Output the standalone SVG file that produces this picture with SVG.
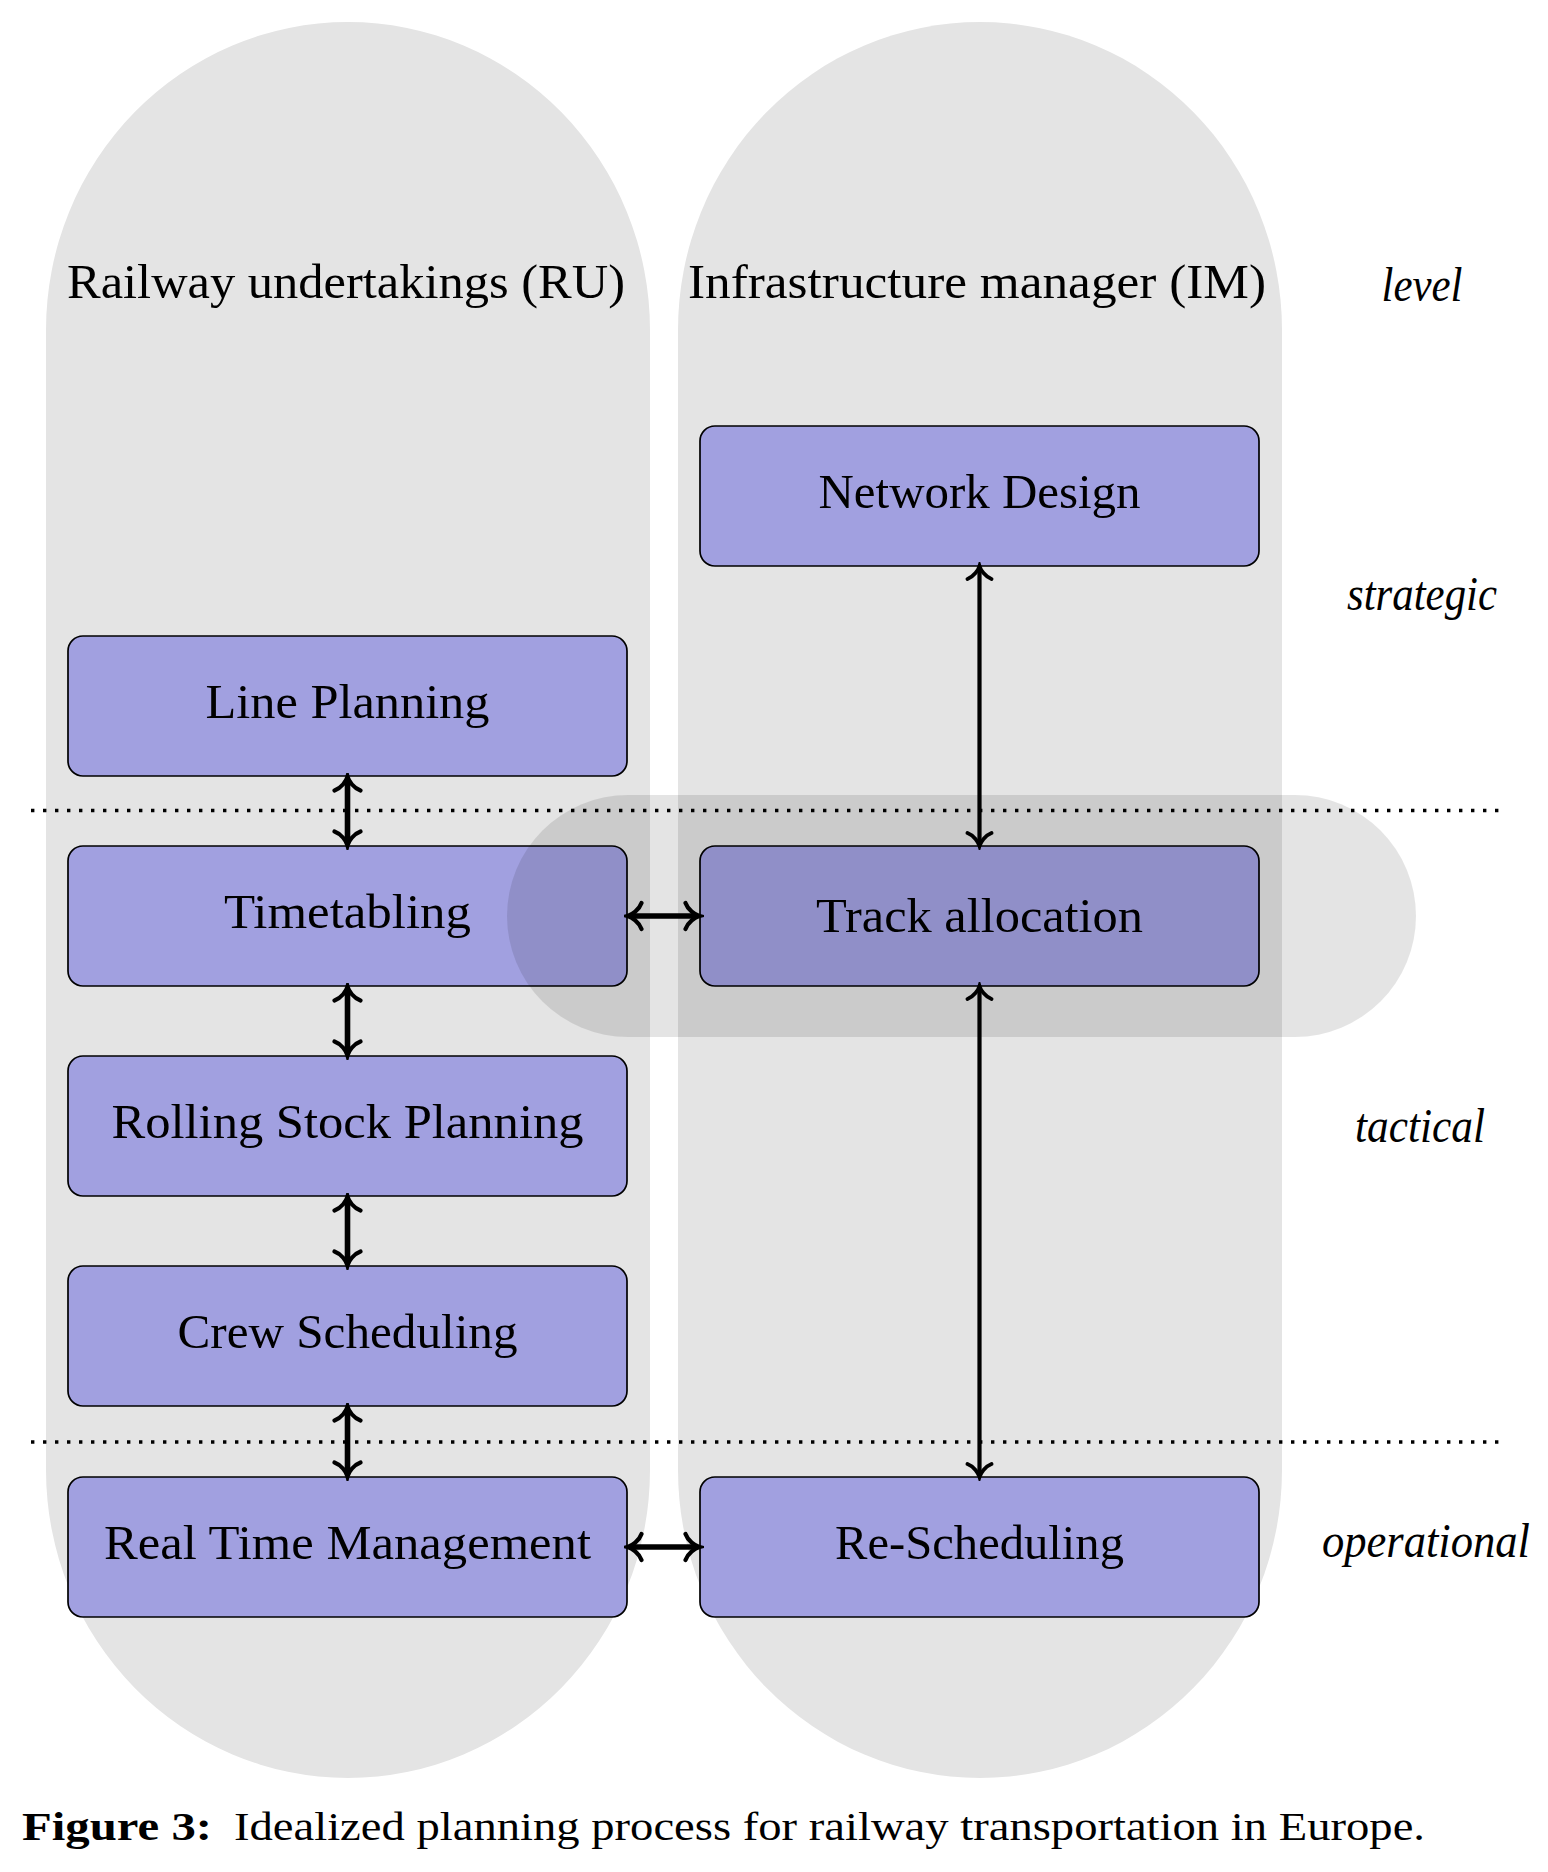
<svg xmlns="http://www.w3.org/2000/svg" width="1548" height="1872" viewBox="0 0 1548 1872">
<style>
.lane{fill:#e4e4e4;stroke:none}
.band{fill:#000;fill-opacity:0.105;stroke:none}
.box{fill:#a1a0e0;stroke:#000;stroke-width:1.7}
.t{font-family:"Liberation Serif","Times New Roman",serif;font-size:48px;fill:#000;text-anchor:middle}
.lvl{font-family:"Liberation Serif","Times New Roman",serif;font-size:48px;font-style:italic;fill:#000;text-anchor:middle}
.cap{font-family:"Liberation Serif","Times New Roman",serif;font-size:39px;fill:#000}
.dot{fill:none;stroke:#000;stroke-width:3.4;stroke-dasharray:3.4 8.6}
.a1{fill:none;stroke:#000;stroke-width:5.6}
.a2{fill:none;stroke:#000;stroke-width:4.2}
</style>
<defs>
<marker id="h1" markerUnits="userSpaceOnUse" viewBox="-18 -16 22 32" refX="-2.5" refY="0" markerWidth="22" markerHeight="32" orient="auto-start-reverse">
<path d="M -14,-13 C -11.5,-6 -4.5,-1.2 0,0 C -4.5,1.2 -11.5,6 -14,13" fill="none" stroke="#000" stroke-width="4.2" stroke-linecap="round"/>
</marker>
<marker id="h2" markerUnits="userSpaceOnUse" viewBox="-18 -16 22 32" refX="-2" refY="0" markerWidth="22" markerHeight="32" orient="auto-start-reverse">
<path d="M -13,-12 C -10.5,-5.5 -4,-1.2 0,0 C -4,1.2 -10.5,5.5 -13,12" fill="none" stroke="#000" stroke-width="3.8" stroke-linecap="round"/>
</marker>
</defs>

<g id="lane-ru">
<path class="lane" d="M 46,330 A 302,308 0 0 1 650,330 L 650,1470 A 302,308 0 0 1 46,1470 Z"/>
<text class="t" x="346" y="298" textLength="558" lengthAdjust="spacingAndGlyphs">Railway undertakings (RU)</text>
</g>
<g id="lane-im">
<path class="lane" d="M 678,330 A 302,308 0 0 1 1282,330 L 1282,1470 A 302,308 0 0 1 678,1470 Z"/>
<text class="t" x="977" y="298" textLength="578" lengthAdjust="spacingAndGlyphs">Infrastructure manager (IM)</text>
</g>

<g id="levels">
<text class="lvl" x="1422" y="301" textLength="81" lengthAdjust="spacingAndGlyphs">level</text>
<text class="lvl" x="1422" y="610" textLength="150" lengthAdjust="spacingAndGlyphs">strategic</text>
<text class="lvl" x="1420" y="1142" textLength="130" lengthAdjust="spacingAndGlyphs">tactical</text>
<text class="lvl" x="1426" y="1557" textLength="208" lengthAdjust="spacingAndGlyphs">operational</text>
</g>

<g id="separators">
<line class="dot" x1="31" y1="810.5" x2="1502" y2="810.5"/>
<line class="dot" x1="31" y1="1442" x2="1502" y2="1442"/>
</g>

<g id="network-design">
<rect class="box" x="700" y="426" width="559" height="140" rx="15"/>
<text class="t" x="979.5" y="508" textLength="322" lengthAdjust="spacingAndGlyphs">Network Design</text>
</g>
<g id="line-planning">
<rect class="box" x="68" y="636" width="559" height="140" rx="15"/>
<text class="t" x="347.5" y="718" textLength="284" lengthAdjust="spacingAndGlyphs">Line Planning</text>
</g>
<g id="timetabling">
<rect class="box" x="68" y="846" width="559" height="140" rx="15"/>
<text class="t" x="347.5" y="928" textLength="247" lengthAdjust="spacingAndGlyphs">Timetabling</text>
</g>
<g id="track-allocation">
<rect class="box" x="700" y="846" width="559" height="140" rx="15"/>
<text class="t" x="979.5" y="932" textLength="327" lengthAdjust="spacingAndGlyphs">Track allocation</text>
</g>
<g id="rolling-stock">
<rect class="box" x="68" y="1056" width="559" height="140" rx="15"/>
<text class="t" x="347.5" y="1138" textLength="472" lengthAdjust="spacingAndGlyphs">Rolling Stock Planning</text>
</g>
<g id="crew-scheduling">
<rect class="box" x="68" y="1266" width="559" height="140" rx="15"/>
<text class="t" x="347.5" y="1348" textLength="340" lengthAdjust="spacingAndGlyphs">Crew Scheduling</text>
</g>
<g id="real-time">
<rect class="box" x="68" y="1477" width="559" height="140" rx="15"/>
<text class="t" x="347.5" y="1559" textLength="487" lengthAdjust="spacingAndGlyphs">Real Time Management</text>
</g>
<g id="re-scheduling">
<rect class="box" x="700" y="1477" width="559" height="140" rx="15"/>
<text class="t" x="979.5" y="1559" textLength="289" lengthAdjust="spacingAndGlyphs">Re-Scheduling</text>
</g>

<g id="track-level-band">
<rect class="band" x="507" y="795" width="909" height="242" rx="121" ry="121"/>
</g>

<g id="connectors">
<line class="a1" x1="347.5" y1="779" x2="347.5" y2="843" marker-start="url(#h1)" marker-end="url(#h1)"/>
<line class="a1" x1="347.5" y1="989" x2="347.5" y2="1053" marker-start="url(#h1)" marker-end="url(#h1)"/>
<line class="a1" x1="347.5" y1="1199" x2="347.5" y2="1263" marker-start="url(#h1)" marker-end="url(#h1)"/>
<line class="a1" x1="347.5" y1="1409" x2="347.5" y2="1474" marker-start="url(#h1)" marker-end="url(#h1)"/>
<line class="a1" x1="630" y1="916" x2="697" y2="916" marker-start="url(#h1)" marker-end="url(#h1)"/>
<line class="a1" x1="630" y1="1547" x2="697" y2="1547" marker-start="url(#h1)" marker-end="url(#h1)"/>
<line class="a2" x1="979.5" y1="568" x2="979.5" y2="844" marker-start="url(#h2)" marker-end="url(#h2)"/>
<line class="a2" x1="979.5" y1="988" x2="979.5" y2="1475" marker-start="url(#h2)" marker-end="url(#h2)"/>
</g>

<g id="caption">
<text class="cap" x="22" y="1840"><tspan font-weight="bold" textLength="190" lengthAdjust="spacingAndGlyphs">Figure 3:</tspan></text>
<text class="cap" x="234" y="1840" textLength="1191" lengthAdjust="spacingAndGlyphs">Idealized planning process for railway transportation in Europe.</text>
</g>
</svg>
